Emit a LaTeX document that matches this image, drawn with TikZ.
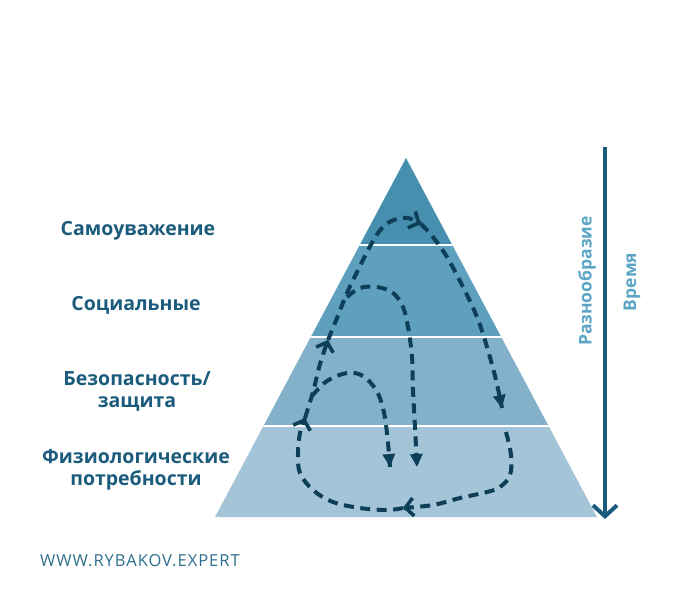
\documentclass[tikz,border=0pt]{standalone}
\usepackage{fontspec}
\setmainfont{Open Sans}
\usetikzlibrary{arrows.meta,calc}
\definecolor{bandA}{HTML}{468FAE}
\definecolor{bandB}{HTML}{5FA0BF}
\definecolor{bandC}{HTML}{84B1CA}
\definecolor{bandD}{HTML}{A4C4D7}
\definecolor{labelc}{HTML}{1B5B7C}
\definecolor{pathc}{HTML}{0E3F58}
\definecolor{timec}{HTML}{1A5C7E}
\definecolor{sidec}{HTML}{5BA5C6}
\definecolor{urlc}{HTML}{2C6E8E}
\tikzset{
  lvl/.style={font=\bfseries\fontsize{19.5}{22}\selectfont, text=labelc, align=center},
  side/.style={font=\bfseries\fontsize{17.5}{20}\selectfont, text=sidec, rotate=90},
  flow/.style={draw=pathc, line width=4pt, dash pattern=on 10pt off 6.5pt},
  barbtip/.style={draw=pathc, line width=3.6pt, solid, -{Straight Barb[length=8pt,width=18pt,line width=3.6pt]}},
  tritip/.style={draw=pathc, line width=3.6pt, solid, -{Triangle[length=13pt,width=12pt]}},
}
\begin{document}
\begin{tikzpicture}[x=1pt,y=-1pt]
\useasboundingbox (0,0) rectangle (700,600);
% pyramid
\coordinate (apex) at (406,158);
\coordinate (bl) at (215,517);
\coordinate (br) at (597,517);
\begin{scope}
  \clip (apex) -- (br) -- (bl) -- cycle;
  \fill[bandA] (200,150) rectangle (620,245);
  \fill[bandB] (200,245) rectangle (620,337);
  \fill[bandC] (200,337) rectangle (620,426);
  \fill[bandD] (200,426) rectangle (620,520);
  \draw[white, line width=2.5pt] (200,245) -- (620,245);
  \draw[white, line width=2.5pt] (200,337) -- (620,337);
  \draw[white, line width=2.5pt] (200,426) -- (620,426);
\end{scope}
% labels
\node[lvl] (l1) at (138,231) {Самоуважение};
\node[lvl] (l2) at (136,305) {Социальные};
\node[lvl] (l3) at (137,391) {Безопасность/\\защита};
\node[lvl] (l4) at (136,470) {Физиологические\\потребности};
% time arrow
\coordinate (t0) at (605,147);
\coordinate (t1) at (605,519);
\draw[timec, line width=4pt, -{Straight Barb[length=11pt,width=24pt,line width=4pt]}] (t0) -- (t1);
\node[side] (div) at (587,281) {Разнообразие};
\node[side] (tim) at (632,282) {Время};
% url
\node[font=\fontsize{16.5}{18}\selectfont\addfontfeature{LetterSpace=6}, text=urlc, anchor=west, inner sep=0pt] (url) at (40,561) {WWW.RYBAKOV.EXPERT};
% flow paths
\coordinate (p1) at (403,508);
\coordinate (p2) at (305,418);
\coordinate (p3) at (328,340);
\coordinate (p4) at (421,224);
\coordinate (p5) at (502,408);
\coordinate (a1) at (433,505);
\coordinate (a2) at (300,433);
\coordinate (a3) at (320,364);
\coordinate (a4) at (408,218);
\coordinate (a5) at (496,380);
\draw[flow] plot[smooth, tension=0.6] coordinates {(p1) (387,510) (360,508) (333,502) (313,490) (300,473) (298,453) (a2) (p2)};
\draw[flow] plot[smooth, tension=0.6] coordinates {(p2) (313,392) (a3) (p3)};
\draw[flow] plot[smooth, tension=0.6] coordinates {(p3) (337,318) (347,293) (360,266) (373,241) (383,227) (394,220) (a4) (p4)};
\draw[flow] plot[smooth, tension=0.6] coordinates {(p4) (433,237) (447,257) (463,287) (477,317) (487,347) (a5) (p5)};
\draw[flow] plot[smooth, tension=0.6] coordinates {(506,432) (511,455) (510,475) (500,487) (487,492) (460,498) (a1) (p1)};
\draw[barbtip] ($(p1)!3pt!(a1)$) -- (p1);
\draw[barbtip] ($(p2)!3pt!(a2)$) -- (p2);
\draw[barbtip] ($(p3)!3pt!(a3)$) -- (p3);
\draw[barbtip] ($(p4)!3pt!(a4)$) -- (p4);
\draw[tritip] ($(p5)!3pt!(a5)$) -- (p5);
\coordinate (q1) at (312,396);
\coordinate (q2) at (390,467);
\coordinate (b1) at (387,433);
\draw[flow] plot[smooth, tension=0.6] coordinates {(q1) (327,381) (347,373) (363,376) (376,390) (383,408) (b1) (q2)};
\draw[tritip] ($(q2)!3pt!(b1)$) -- (q2);
\coordinate (r1) at (347,297);
\coordinate (r2) at (417,467);
\coordinate (b2) at (415,427);
\draw[flow] plot[smooth, tension=0.6] coordinates {(r1) (360,288) (377,287) (393,293) (403,307) (408,327) (412,357) (413,390) (b2) (r2)};
\draw[tritip] ($(r2)!3pt!(b2)$) -- (r2);
\end{tikzpicture}
\end{document}
